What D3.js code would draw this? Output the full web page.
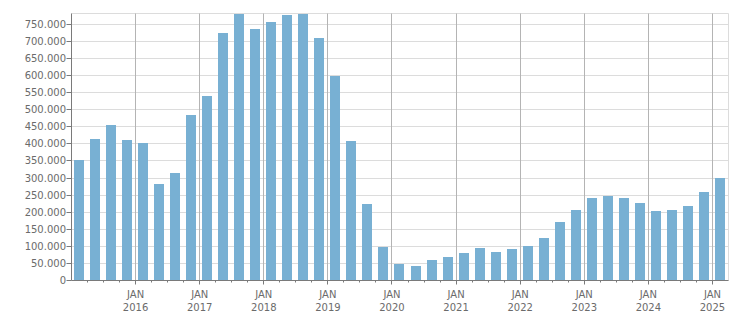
<!DOCTYPE html>
<html>
<head>
<meta charset="utf-8">
<script src="https://cdn.jsdelivr.net/npm/d3@7"></script>
<style>
  body { margin: 0; background: #fff; }
  svg { display: block; }
  text { font-family: "DejaVu Sans", Verdana, sans-serif; font-size: 10px; fill: #6b6b6b; }
</style>
</head>
<body>
<script>
// quarters 2015 Q1 .. 2025 Q1
var quarters = ["2015-01","2015-04","2015-07","2015-10",
    "2016-01","2016-04","2016-07","2016-10",
    "2017-01","2017-04","2017-07","2017-10",
    "2018-01","2018-04","2018-07","2018-10",
    "2019-01","2019-04","2019-07","2019-10",
    "2020-01","2020-04","2020-07","2020-10",
    "2021-01","2021-04","2021-07","2021-10",
    "2022-01","2022-04","2022-07","2022-10",
    "2023-01","2023-04","2023-07","2023-10",
    "2024-01","2024-04","2024-07","2024-10",
    "2025-01"];
var values = [352000, 414000, 454000, 410000,
    401000, 281000, 313000, 483000,
    539000, 723000, 779000, 735000,
    756000, 776000, 779000, 709000,
    598000, 407000, 223000, 97000,
    48000, 42000, 59000, 67000,
    79000, 95000, 83000, 91000,
    100000, 123000, 170000, 205000,
    240000, 246000, 240000, 226000,
    202000, 205000, 217000, 258000,
    299000];
var yTicks = d3.range(0, 750001, 50000);
var yMax = 782000;

var width = 751, height = 313;
var margin = {top: 13.5, right: 22.5, bottom: 32.5, left: 71.5};
var w = width - margin.left - margin.right;
var h = height - margin.top - margin.bottom;

var fmt = d3.formatLocale({decimal: ",", thousands: ".", grouping: [3], currency: ["", ""]}).format(",d");

var svg = d3.select("body").append("svg")
    .attr("width", width)
    .attr("height", height);
var g = svg.append("g").attr("transform", "translate(" + margin.left + "," + margin.top + ")");

var x = d3.scaleBand().domain(quarters).range([0, w]);
var y = d3.scaleLinear().domain([0, yMax]).range([h, 0]);

// horizontal grid
g.selectAll(".hgrid")
    .data(yTicks.concat([yMax]))
    .enter().append("line")
    .attr("x1", 0).attr("x2", w)
    .attr("y1", function (d) { return Math.round(y(d)) + 0.5 - 0.5; })
    .attr("y2", function (d) { return Math.round(y(d)) + 0.5 - 0.5; })
    .attr("stroke", "#dcdcdc");

// right border
g.append("line")
    .attr("x1", w).attr("x2", w).attr("y1", 0).attr("y2", h)
    .attr("stroke", "#dcdcdc");

// vertical grid at January
var jans = quarters.filter(function (q) { return q.slice(5) === "01" && q !== quarters[0]; });
g.selectAll(".vgrid")
    .data(jans)
    .enter().append("line")
    .attr("x1", function (d) { return Math.round(x(d)); })
    .attr("x2", function (d) { return Math.round(x(d)); })
    .attr("y1", 0).attr("y2", h)
    .attr("stroke", "#b4b4b4");

// bars
var bw = x.bandwidth();
g.selectAll(".bar")
    .data(values)
    .enter().append("rect")
    .attr("x", function (d, i) { return Math.round(x(quarters[i]) + bw * 0.1875) - 0.5; })
    .attr("width", Math.round(bw * 0.625))
    .attr("y", function (d) { return Math.round(y(d)) - 0.5; })
    .attr("height", function (d) { return h - Math.round(y(d)) + 0.5; })
    .attr("fill", "#78b0d3");

// y axis
g.append("line")
    .attr("x1", 0).attr("x2", 0).attr("y1", 0).attr("y2", h)
    .attr("stroke", "#7a7a7a");
g.selectAll(".ytick")
    .data(yTicks)
    .enter().append("line")
    .attr("x1", -5).attr("x2", 0)
    .attr("y1", function (d) { return Math.round(y(d)); })
    .attr("y2", function (d) { return Math.round(y(d)); })
    .attr("stroke", "#7a7a7a");
g.selectAll(".ylab")
    .data(yTicks)
    .enter().append("text")
    .attr("x", -5.5)
    .attr("y", function (d) { return y(d); })
    .attr("dy", "0.35em")
    .attr("text-anchor", "end")
    .text(function (d) { return fmt(d); });

// x axis
g.append("line")
    .attr("x1", 0).attr("x2", w).attr("y1", h).attr("y2", h)
    .attr("stroke", "#7a7a7a");
g.selectAll(".xtick")
    .data(quarters.slice(1))
    .enter().append("line")
    .attr("x1", function (d) { return Math.round(x(d)); })
    .attr("x2", function (d) { return Math.round(x(d)); })
    .attr("y1", h)
    .attr("y2", function (d) { return d.slice(5) === "01" ? h + 4 : h + 2; })
    .attr("stroke", "#7a7a7a");
g.selectAll(".xlab1")
    .data(jans)
    .enter().append("text")
    .attr("x", function (d) { return x(d); })
    .attr("y", h + 17)
    .attr("text-anchor", "middle")
    .text("JAN");
g.selectAll(".xlab2")
    .data(jans)
    .enter().append("text")
    .attr("x", function (d) { return x(d); })
    .attr("y", h + 30)
    .attr("text-anchor", "middle")
    .text(function (d) { return d.slice(0, 4); });
</script>
</body>
</html>
